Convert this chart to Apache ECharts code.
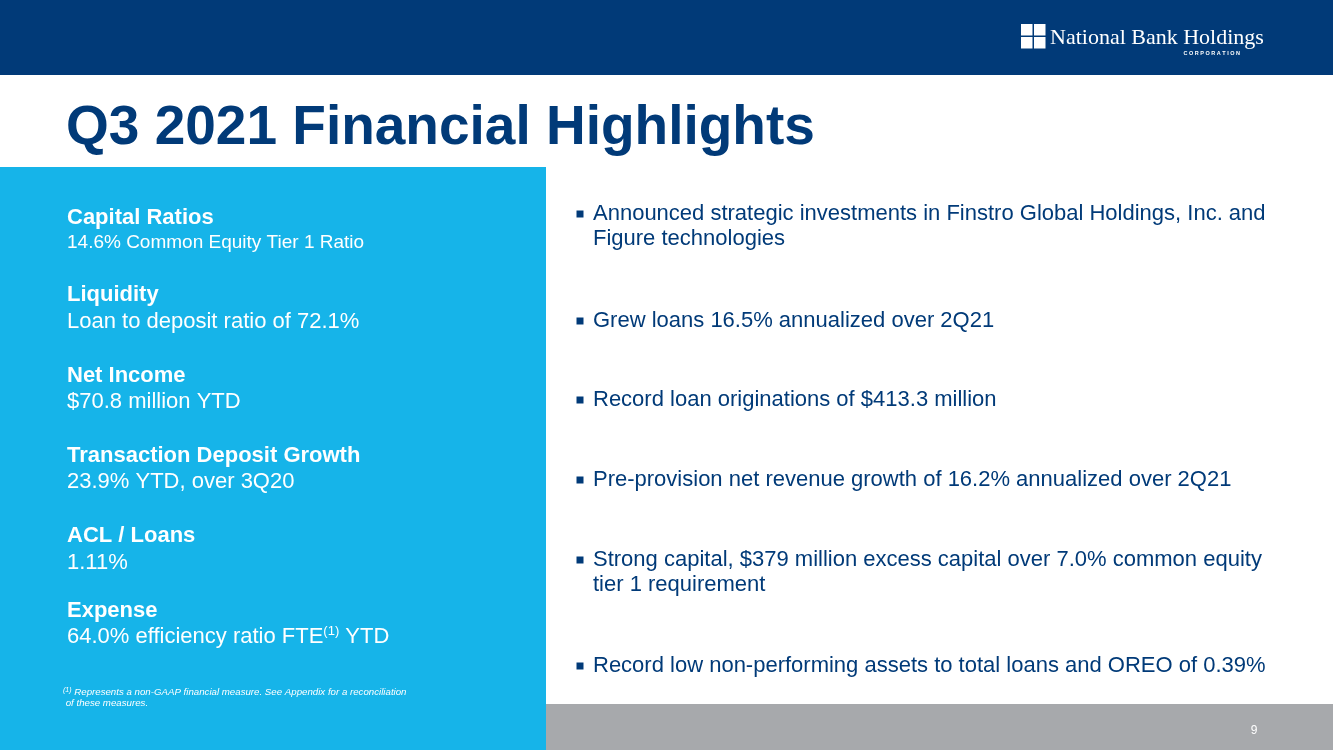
<!DOCTYPE html>
<html><head><meta charset="utf-8">
<script src="https://cdn.jsdelivr.net/npm/echarts@6/dist/echarts.min.js"></script>
<style>html,body{margin:0;padding:0;background:#fff}#c{width:1333px;height:750px}</style>
</head><body><div id="c"></div>
<script>
const title = "Q3 2021 Financial Highlights";
const leftHeadings = ["Capital Ratios","Liquidity","Net Income","Transaction Deposit Growth","ACL / Loans","Expense"];
const leftValues = ["14.6% Common Equity Tier 1 Ratio","Loan to deposit ratio of 72.1%","$70.8 million YTD","23.9% YTD, over 3Q20","1.11%","64.0% efficiency ratio FTE{sup|(1)} YTD"];
const leftHeadY = [218,295,376,456,536,611];
const leftValY = [243,322,402,482,563,637];
const bullets = [
  ["Announced strategic investments in Finstro Global Holdings, Inc. and","Figure technologies"],
  ["Grew loans 16.5% annualized over 2Q21"],
  ["Record loan originations of $413.3 million"],
  ["Pre-provision net revenue growth of 16.2% annualized over 2Q21"],
  ["Strong capital, $379 million excess capital over 7.0% common equity","tier 1 requirement"],
  ["Record low non-performing assets to total loans and OREO of 0.39%"]
];
const bulletY = [214,321,400,480,560,666];
const footnote = ["{sup|(1)} Represents a non-GAAP financial measure. See Appendix for a reconciliation"," of these measures."];
const pageNum = "9";

const NAVY = "#013a78", SKY = "#16b4e9", GRAY = "#a7a9ac";
const FONT = "Liberation Sans, Arial, sans-serif";
const els = [];
els.push({type:'rect',shape:{x:0,y:0,width:1333,height:75},style:{fill:NAVY}});
els.push({type:'rect',shape:{x:0,y:167,width:546,height:583},style:{fill:SKY}});
els.push({type:'rect',shape:{x:546,y:704,width:787,height:46},style:{fill:GRAY}});
// logo
[[1021,24],[1034,24],[1021,37],[1034,37]].forEach(p=>els.push({type:'rect',shape:{x:p[0],y:p[1],width:11.5,height:11.5},style:{fill:'#fff'}}));
els.push({type:'text',style:{text:'National Bank Holdings',x:1050,y:38,font:'22px "Liberation Serif", serif',fill:'#fff',textVerticalAlign:'middle'}});
els.push({type:'text',style:{text:'C O R P O R A T I O N',x:1240,y:53,font:'bold 5.5px '+FONT,fill:'#fff',textAlign:'right',textVerticalAlign:'middle'}});
// title
els.push({type:'text',style:{text:title,x:66,y:129,font:'bold 55px '+FONT,fill:NAVY,textVerticalAlign:'middle'}});
// left
leftHeadings.forEach((h,i)=>{
  els.push({type:'text',style:{text:h,x:67,y:leftHeadY[i],font:'bold 22px '+FONT,fill:'#fff',textVerticalAlign:'middle'}});
  els.push({type:'text',style:{text:leftValues[i],x:67,y:leftValY[i],font:(i===0?'19px ':'22px ')+FONT,fill:'#fff',textVerticalAlign:'middle',
    rich:{sup:{fontSize:13,verticalAlign:'top',padding:[0,0,11,0],fill:'#fff',fontFamily:FONT}}}});
});
// footnote
footnote.forEach((t,i)=>els.push({type:'text',style:{text:t,x:63,y:692+i*11,font:'italic 9.7px '+FONT,fill:'#fff',textVerticalAlign:'middle',
  rich:{sup:{fontSize:7,fontStyle:'italic',padding:[0,0,4,0],fill:'#fff',fontFamily:FONT}}}}));
// bullets
bullets.forEach((b,i)=>{
  els.push({type:'rect',shape:{x:576.5,y:bulletY[i]-3.5,width:7,height:7},style:{fill:NAVY}});
  b.forEach((t,j)=>els.push({type:'text',style:{text:t,x:593,y:bulletY[i]+j*25,font:'22px '+FONT,fill:NAVY,textVerticalAlign:'middle'}}));
});
els.push({type:'text',style:{text:pageNum,x:1254,y:731,font:'12px '+FONT,fill:'#fff',textAlign:'center',textVerticalAlign:'middle'}});

const chart = echarts.init(document.getElementById('c'),null,{renderer:'canvas'});
chart.setOption({animation:false,graphic:{elements:els}});
</script></body></html>
